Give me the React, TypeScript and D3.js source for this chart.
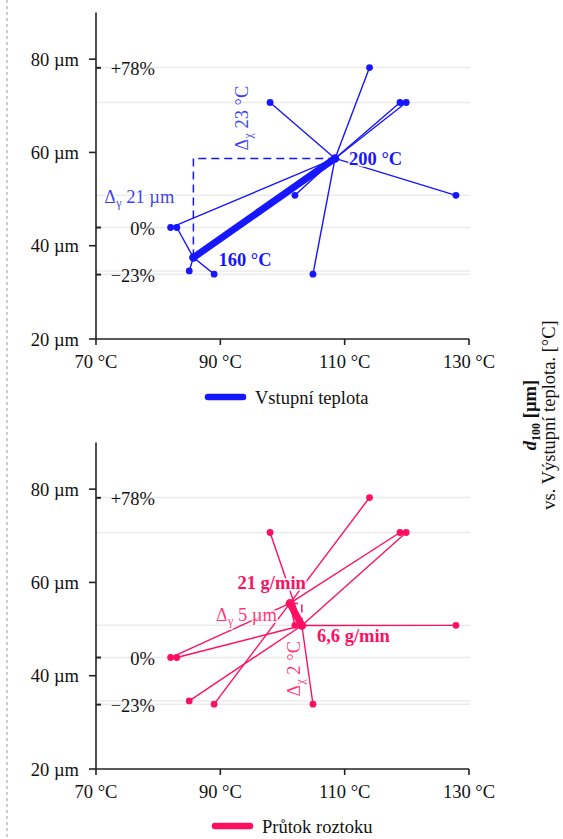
import React from "react";
import * as d3 from "d3";

// ---- data ----
const runIds = ["A", "B", "C", "D", "E", "F", "G", "H", "I", "J", "K"];
const outletTemp = [114.0, 98.0, 118.9, 119.9, 102.0, 127.9, 82.0, 83.0, 85.0, 89.0, 104.9];
const d100 = [78.2, 70.7, 70.7, 70.7, 50.8, 50.8, 43.9, 43.9, 34.6, 33.9, 33.9];
const inletLevel = ["200 °C", "200 °C", "200 °C", "200 °C", "200 °C", "200 °C", "200 °C", "160 °C", "160 °C", "160 °C", "200 °C"];
const flowLevel = ["21 g/min", "6,6 g/min", "21 g/min", "6,6 g/min", "21 g/min", "6,6 g/min", "21 g/min", "6,6 g/min", "6,6 g/min", "21 g/min", "6,6 g/min"];
const inletLevels = ["160 °C", "200 °C"];
const flowLevels = ["6,6 g/min", "21 g/min"];
const xTicks = [70, 90, 110, 130];
const yTicks = [20, 40, 60, 80];
const pctTicks = [78, 0, -23];
const pctBase = 43.9;

const FONT = "'Liberation Serif', 'Times New Roman', serif";
const FS = 18.5;

type Pt = { x: number; y: number };

const panels = [
  {
    offsetY: 0,
    groups: inletLevel,
    levels: inletLevels,
    color: "#1616ff",
    legend: "Vstupní teplota",
    legendX: 208,
    legendY: 397,
    firstLabel: (p: Pt) => ({ x: p.x + 25, y: p.y + 8, anchor: "start" }),
    secondLabel: (p: Pt) => ({ x: p.x + 14, y: p.y + 7, anchor: "start" }),
    dyLabel: (a: Pt, b: Pt) => ({ x: a.x - 19, y: (a.y + b.y) / 2 - 5 }),
    dxLabel: (a: Pt, b: Pt) => ({ x: (a.x + b.x) / 2 - 16, y: b.y - 8 }),
  },
  {
    offsetY: 430,
    groups: flowLevel,
    levels: flowLevels,
    color: "#ff0f62",
    legend: "Průtok roztoku",
    legendX: 215,
    legendY: 396,
    firstLabel: (p: Pt) => ({ x: p.x + 15, y: p.y + 17, anchor: "start" }),
    secondLabel: (p: Pt) => ({ x: p.x + 16, y: p.y - 14, anchor: "end" }),
    dyLabel: (a: Pt, b: Pt) => ({ x: a.x - 25, y: (a.y + b.y) / 2 + 7 }),
    dxLabel: (a: Pt, b: Pt) => ({ x: a.x - 2, y: a.y + 71 }),
  },
];

const x = d3.scaleLinear().domain([70, 130]).range([96, 469]);
const y = d3.scaleLinear().domain([20, 90]).range([339, 12.5]);

const halo = { paintOrder: "stroke" as const, stroke: "rgba(255,255,255,0.75)", strokeWidth: 4, strokeLinejoin: "round" as const };

function Panel({ cfg }: { cfg: (typeof panels)[number] }) {
  const idx = d3.range(outletTemp.length);
  const rawMean = (lvl: string) => {
    const members = idx.filter((i) => cfg.groups[i] === lvl);
    return {
      t: d3.mean(members, (i) => outletTemp[i]) as number,
      d: d3.mean(members, (i) => d100[i]) as number,
    };
  };
  const rA = rawMean(cfg.levels[0]);
  const rB = rawMean(cfg.levels[1]);
  const cA: Pt = { x: x(rA.t), y: y(rA.d) };
  const cB: Pt = { x: x(rB.t), y: y(rB.d) };
  const dT = Math.round(Math.abs(rB.t - rA.t));
  const dD = Math.round(Math.abs(rB.d - rA.d));
  const centers: Record<string, Pt> = { [cfg.levels[0]]: cA, [cfg.levels[1]]: cB };
  const gridVals = Array.from(new Set(d100));
  const x0 = x.range()[0];
  const x1 = x.range()[1];
  const yb = y.range()[0];
  const yt = y.range()[1];
  const fl = cfg.firstLabel(cA);
  const sl = cfg.secondLabel(cB);
  const dyl = cfg.dyLabel(cA, cB);
  const dxl = cfg.dxLabel(cA, cB);
  const col = cfg.color;

  return (
    <g transform={`translate(0,${cfg.offsetY})`}>
      {gridVals.map((v) => (
        <line key={"g" + v} x1={x0} x2={x1 + 1} y1={y(v)} y2={y(v)} stroke="#ebebeb" strokeWidth={1.5} />
      ))}
      {/* axes */}
      <line x1={x0} x2={x0} y1={yt} y2={yb} stroke="#222" strokeWidth={1.6} />
      <line x1={x0} x2={x1} y1={yb} y2={yb} stroke="#222" strokeWidth={1.6} />
      {yTicks.map((t) => (
        <g key={"yt" + t}>
          <line x1={x0 - 7} x2={x0} y1={y(t)} y2={y(t)} stroke="#222" strokeWidth={1.6} />
          <text x={x0 - 17} y={y(t) + 6.5} textAnchor="end" fontSize={FS} fontFamily={FONT} fill="#111">
            {t} µm
          </text>
        </g>
      ))}
      {xTicks.map((t) => (
        <g key={"xt" + t}>
          <line x1={x(t)} x2={x(t)} y1={yb} y2={yb + 6} stroke="#222" strokeWidth={1.6} />
          <text x={x(t)} y={yb + 29} textAnchor="middle" fontSize={FS} fontFamily={FONT} fill="#111">
            {t} °C
          </text>
        </g>
      ))}
      {pctTicks.map((p) => {
        const yy = y(pctBase * (1 + p / 100));
        const lbl = p > 0 ? `+${p}%` : p < 0 ? `\u2212${-p}%` : "0%";
        return (
          <g key={"p" + p}>
            <line x1={x0} x2={x0 + 5} y1={yy} y2={yy} stroke="#222" strokeWidth={2} />
            <text x={155} y={yy + 7} textAnchor="end" fontSize={FS} fontFamily={FONT} fill="#111">
              {lbl}
            </text>
          </g>
        );
      })}
      {/* member lines */}
      {idx.map((i) => {
        const c = centers[cfg.groups[i]];
        return (
          <line key={"m" + i} x1={x(outletTemp[i])} y1={y(d100[i])} x2={c.x} y2={c.y} stroke={col} strokeWidth={1.4} />
        );
      })}
      {/* dashed L */}
      <path
        d={`M${cA.x},${cA.y}L${cA.x},${cB.y}L${cB.x},${cB.y}`}
        fill="none"
        stroke={col}
        strokeWidth={1.5}
        strokeDasharray="8,5"
      />
      {/* thick effect line */}
      <line x1={cA.x} y1={cA.y} x2={cB.x} y2={cB.y} stroke={col} strokeWidth={7} strokeLinecap="round" />
      {/* points */}
      {idx.map((i) => (
        <circle key={"c" + i} cx={x(outletTemp[i])} cy={y(d100[i])} r={3.4} fill={col} />
      ))}
      <circle cx={cA.x} cy={cA.y} r={4.3} fill={col} />
      <circle cx={cB.x} cy={cB.y} r={4.3} fill={col} />
      {/* labels */}
      <text x={fl.x} y={fl.y} textAnchor={fl.anchor as any} fontSize={FS} fontWeight="bold" fontFamily={FONT} fill={col} style={halo}>
        {cfg.levels[0]}
      </text>
      <text x={sl.x} y={sl.y} textAnchor={sl.anchor as any} fontSize={FS} fontWeight="bold" fontFamily={FONT} fill={col} style={halo}>
        {cfg.levels[1]}
      </text>
      <text x={dyl.x} y={dyl.y} textAnchor="end" fontSize={FS} fontFamily={FONT} fill={col} fillOpacity={0.85} style={halo}>
        Δ<tspan fontSize={12} dy={4}>γ</tspan>
        <tspan dy={-4}> {dD} µm</tspan>
      </text>
      <text
        transform={`translate(${dxl.x},${dxl.y}) rotate(-90)`}
        textAnchor="start"
        fontSize={FS}
        fontFamily={FONT}
        fill={col}
        fillOpacity={0.85}
        style={halo}
      >
        Δ<tspan fontSize={12} dy={4}>χ</tspan>
        <tspan dy={-4}> {dT} °C</tspan>
      </text>
      {/* legend */}
      <line x1={cfg.legendX} x2={cfg.legendX + 35} y1={cfg.legendY} y2={cfg.legendY} stroke={col} strokeWidth={6.5} strokeLinecap="round" />
      <text x={cfg.legendX + 47} y={cfg.legendY + 7} fontSize={FS} fontFamily={FONT} fill="#111">
        {cfg.legend}
      </text>
    </g>
  );
}

export default function App() {
  return (
    <svg
      width={563}
      height={839}
      viewBox="0 0 563 839"
      style={{ position: "absolute", left: 0, top: 0, background: "#fff" }}
    >
      <rect width={563} height={839} fill="#fff" />
      <line x1={7} x2={7} y1={0} y2={839} stroke="#9a9a9a" strokeWidth={1} strokeDasharray="3,3" />
      {panels.map((p, i) => (
        <Panel key={i} cfg={p} />
      ))}
      <g transform="translate(0,415) rotate(-90)">
        <text x={0} y={536} textAnchor="middle" fontSize={FS} fontFamily={FONT} fill="#111" fontWeight="bold">
          <tspan fontStyle="italic">d</tspan>
          <tspan fontSize={12} dy={4}>100</tspan>
          <tspan dy={-4}> [µm]</tspan>
        </text>
        <text x={0} y={555} textAnchor="middle" fontSize={FS} fontFamily={FONT} fill="#111">
          vs. Výstupní teplota. [°C]
        </text>
      </g>
    </svg>
  );
}
